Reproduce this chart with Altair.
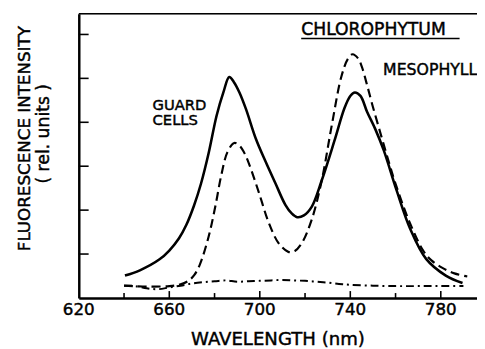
import altair as alt
import pandas as pd

# ---- data ----
guard_wl = [640.4, 647, 655.7, 660, 664.3, 667.5, 670.9, 674, 677.4, 680.9, 683.9, 686.5, 688.5, 691, 693.9,
            698.3, 702.6, 707, 711.3, 714, 716.5, 719.5, 723, 727.4, 733, 737.4, 740, 742, 744.5, 747.4,
            751, 754.8, 760.4, 766.5, 773.5, 782.2, 789.6]
guard_val = [0.51, 0.63, 0.88, 1.08, 1.36, 1.66, 2.10, 2.60, 3.30, 4.15, 4.68, 5.03, 4.92, 4.68, 4.30,
             3.62, 3.10, 2.60, 2.12, 1.93, 1.84, 1.88, 2.08, 2.68, 3.58, 4.32, 4.60, 4.68, 4.60, 4.24,
             3.85, 3.36, 2.46, 1.57, 0.89, 0.51, 0.34]

meso_wl = [640, 650, 660, 665, 668.7, 671, 673.5, 677.4, 680.4, 683, 685.7, 688.7, 691, 693, 695.2, 699.6,
           703.9, 708.3, 712.6, 715.5, 718.7, 723, 727.4, 731.7, 736.1, 739, 741, 743.5, 745.2, 747.4, 750,
           753.5, 757, 760, 766, 772.2, 776, 780.9, 786, 791.7]
meso_val = [0.28, 0.26, 0.27, 0.31, 0.40, 0.52, 0.76, 1.40, 2.10, 2.80, 3.32, 3.53, 3.47, 3.32, 3.06, 2.40,
            1.72, 1.25, 1.05, 1.07, 1.26, 1.79, 2.68, 3.90, 5.05, 5.45, 5.55, 5.45, 5.25, 4.85, 4.35,
            3.72, 3.10, 2.60, 1.75, 1.08, 0.85, 0.68, 0.56, 0.49]

base_wl = [640, 645, 650, 655, 660, 665, 670, 675, 680, 685, 690, 695, 700, 705, 710, 715, 720, 725,
           730, 735, 740, 750, 760, 770, 780, 790]
base_val = [0.28, 0.27, 0.22, 0.20, 0.24, 0.28, 0.33, 0.36, 0.38, 0.40, 0.37, 0.38, 0.39, 0.40, 0.41,
            0.40, 0.39, 0.37, 0.35, 0.32, 0.30, 0.28, 0.27, 0.27, 0.27, 0.27]

x_labels = [620, 660, 700, 740, 780]
x_major = [660, 700, 740, 780]
x_minor = [640, 680, 720, 760]
y_ticks = [1, 2, 3, 4, 5, 6]

FONT = "DejaVu Sans"
W, H = 405, 289
TS = 0.45  # text stroke to thicken glyphs like the scanned original

xs = alt.Scale(domain=[620, 796], nice=False, zero=False)
ys = alt.Scale(domain=[0, 6.47], nice=False, zero=False)

guard = pd.DataFrame({"wl": guard_wl, "v": guard_val})
meso = pd.DataFrame({"wl": meso_wl, "v": meso_val})
base = pd.DataFrame({"wl": base_wl, "v": base_val})

X = alt.X("wl:Q", scale=xs,
          axis=alt.Axis(values=x_labels, ticks=False, grid=False, domainWidth=2.5, domainColor="black",
                        labels=False, title=None))
Y = alt.Y("v:Q", scale=ys,
          axis=alt.Axis(labels=False, ticks=False, grid=False, domainWidth=2.5, domainColor="black",
                        title=None))

l_guard = alt.Chart(guard).mark_line(color="black", strokeWidth=2.6, interpolate="catmull-rom", clip=True).encode(x=X, y=Y)
l_meso = alt.Chart(meso).mark_line(color="black", strokeWidth=2.2, strokeDash=[9, 5], interpolate="catmull-rom", clip=True).encode(x=X, y=Y)
l_base = alt.Chart(base).mark_line(color="black", strokeWidth=2.0, strokeDash=[8, 4, 2, 4], interpolate="catmull-rom", clip=True).encode(x=X, y=Y)

xmaj = alt.Chart(pd.DataFrame({"t": x_major})).mark_rule(color="black", strokeWidth=1.6).encode(
    x=alt.X("t:Q", scale=xs), y=alt.value(H), y2=alt.value(H - 7))
xmin = alt.Chart(pd.DataFrame({"t": x_minor})).mark_rule(color="black", strokeWidth=1.6).encode(
    x=alt.X("t:Q", scale=xs), y=alt.value(H), y2=alt.value(H - 5))
ytk = alt.Chart(pd.DataFrame({"t": y_ticks})).mark_rule(color="black", strokeWidth=1.6).encode(
    y=alt.Y("t:Q", scale=ys), x=alt.value(0), x2=alt.value(10))
top = alt.Chart(pd.DataFrame({"t": [0]})).mark_rule(color="black", strokeWidth=1.6).encode(
    y=alt.value(0), x=alt.value(0), x2=alt.value(W))


def txt(**kw):
    base_kw = dict(font=FONT, color="black", stroke="black", strokeWidth=TS)
    base_kw.update(kw)
    return base_kw


xlab = alt.Chart(pd.DataFrame({"t": x_labels})).mark_text(**txt(fontSize=17, align="center", baseline="middle")).encode(
    x=alt.X("t:Q", scale=xs), y=alt.value(H + 12), text=alt.Text("t:Q", format="d"))

one = pd.DataFrame({"a": [0]})
xtitle = alt.Chart(one).mark_text(**txt(fontSize=18.4, align="center", baseline="middle")).encode(
    x=alt.value(W / 2), y=alt.value(H + 42), text=alt.value("WAVELENGTH (nm)"))
ytitle1 = alt.Chart(one).mark_text(**txt(fontSize=17, angle=270, align="center", baseline="middle")).encode(
    x=alt.value(-55), y=alt.value(127), text=alt.value("FLUORESCENCE INTENSITY"))
ytitle2 = alt.Chart(one).mark_text(**txt(fontSize=17.5, angle=270, align="center", baseline="middle")).encode(
    x=alt.value(-35), y=alt.value(122), text=alt.value("(  rel.  units  )"))

ann_df = pd.DataFrame({"wl": [652.6, 652.6], "v": [4.40, 4.05], "txt": ["GUARD", "CELLS"]})
ann = alt.Chart(ann_df).mark_text(**txt(fontSize=15, align="left", baseline="middle")).encode(
    x=alt.X("wl:Q", scale=xs), y=alt.Y("v:Q", scale=ys), text="txt:N")

meso_df = pd.DataFrame({"wl": [754.5], "v": [5.19], "txt": ["MESOPHYLL"]})
meso_lbl = alt.Chart(meso_df).mark_text(**txt(fontSize=16, align="left", baseline="middle")).encode(
    x=alt.X("wl:Q", scale=xs), y=alt.Y("v:Q", scale=ys), text="txt:N")

head_df = pd.DataFrame({"wl": [718.3], "v": [6.10], "txt": ["CHLOROPHYTUM"]})
head = alt.Chart(head_df).mark_text(**txt(fontSize=17.5, align="left", baseline="middle")).encode(
    x=alt.X("wl:Q", scale=xs), y=alt.Y("v:Q", scale=ys), text="txt:N")
uline = alt.Chart(pd.DataFrame({"a": [718.3], "b": [788.3], "v": [5.91]})).mark_rule(color="black", strokeWidth=1.5).encode(
    x=alt.X("a:Q", scale=xs), x2="b:Q", y=alt.Y("v:Q", scale=ys))

chart = alt.layer(l_base, l_meso, l_guard, xmaj, xmin, ytk, top, xlab, xtitle, ytitle1, ytitle2, ann,
                  meso_lbl, head, uline).properties(
    width=W, height=H,
    autosize=alt.AutoSizeParams(type="none"),
    padding={"left": 72, "top": 3, "right": 0, "bottom": 49},
).configure_view(stroke=None).configure(background="white")

chart.save("out.html", embed_options={"renderer": "svg", "actions": False})
